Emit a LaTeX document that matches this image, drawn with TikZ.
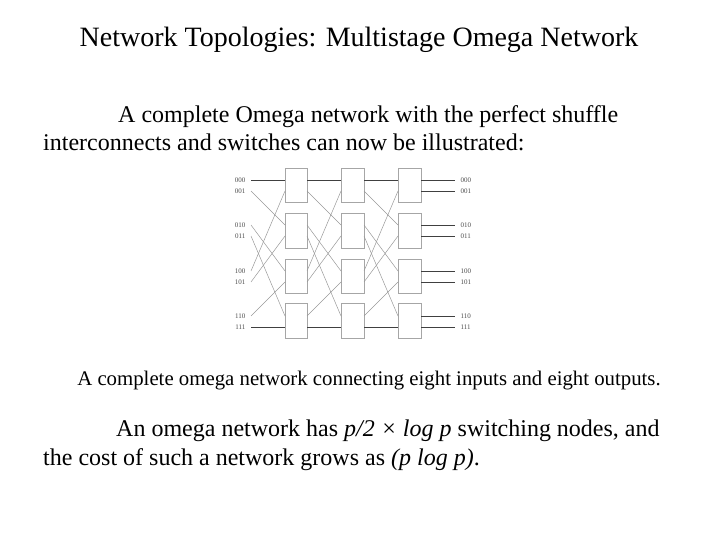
\documentclass[tikz,border=0pt]{standalone}
\usepackage{fontspec}
\setmainfont{Liberation Serif}
\begin{document}
\begin{tikzpicture}[x=1pt,y=-1pt,
  sw/.style={draw=black!35,line width=0.6pt},
  st/.style={draw=black!75,line width=0.7pt},
  dg/.style={draw=black!40,line width=0.5pt},
  lab/.style={font=\fontsize{7}{7}\selectfont,text=black!70},
  txt/.style={anchor=base west,inner sep=0pt}]
\useasboundingbox (0,0) rectangle (720,540);
\node[anchor=base,inner sep=0pt,font=\fontsize{28}{32}\selectfont] (title) at (359,47) {Network Topologies: Multistage Omega Network};
\node[txt,font=\fontsize{24}{28}\selectfont] (p1) at (118,123) {A complete Omega network with the perfect shuffle};
\node[txt,font=\fontsize{24}{28}\selectfont] (p2) at (43,151) {interconnects and switches can now be illustrated:};
\node[anchor=base,inner sep=0pt,font=\fontsize{20.8}{24}\selectfont] (cap) at (369,385) {A complete omega network connecting eight inputs and eight outputs.};
\node[txt,font=\fontsize{24}{28}\selectfont] (p3) at (116,436) {An omega network has \textit{p/2 × log p} switching nodes, and};
\node[txt,font=\fontsize{24}{28}\selectfont] (p4) at (43,465) {the cost of such a network grows as \textit{(p log p)}.};
\def\py{{180,191,225,236,271,282,316,327}}
\def\bt{{168,213,259,303}}
\def\bb{{202,248,293,338}}
\foreach \c/\l/\r in {1/285/307,2/341/364,3/398/421}{
  \foreach \k in {0,...,3}{
    \pgfmathsetmacro\t{\bt[\k]}\pgfmathsetmacro\b{\bb[\k]}
    \node[sw,minimum width=\r-\l,minimum height=\b-\t,inner sep=0pt,anchor=north west] (s\c\k) at (\l,\t) {};
  }}
\foreach \i/\s/\n in {0/0/000,1/2/001,2/4/010,3/6/011,4/1/100,5/3/101,6/5/110,7/7/111}{
  \pgfmathsetmacro\ya{\py[\i]}\pgfmathsetmacro\yb{\py[\s]}
  \node[lab,anchor=east] (in\i) at (249,\ya) {\n};
  \node[lab,anchor=west] (out\i) at (457,\ya) {\n};
  \coordinate (a\i) at (251,\ya);
  \coordinate (z\i) at (455,\ya);
  \ifnum\i=\s \draw[st] (a\i) -- (285,\yb); \else \draw[dg] (a\i) -- (285,\yb);\fi
  \ifnum\i=\s \draw[st] (307,\ya) -- (341,\yb); \else \draw[dg] (307,\ya) -- (341,\yb);\fi
  \ifnum\i=\s \draw[st] (364,\ya) -- (398,\yb); \else \draw[dg] (364,\ya) -- (398,\yb);\fi
  \draw[st] (421,\ya) -- (z\i);
}
\end{tikzpicture}
\end{document}
